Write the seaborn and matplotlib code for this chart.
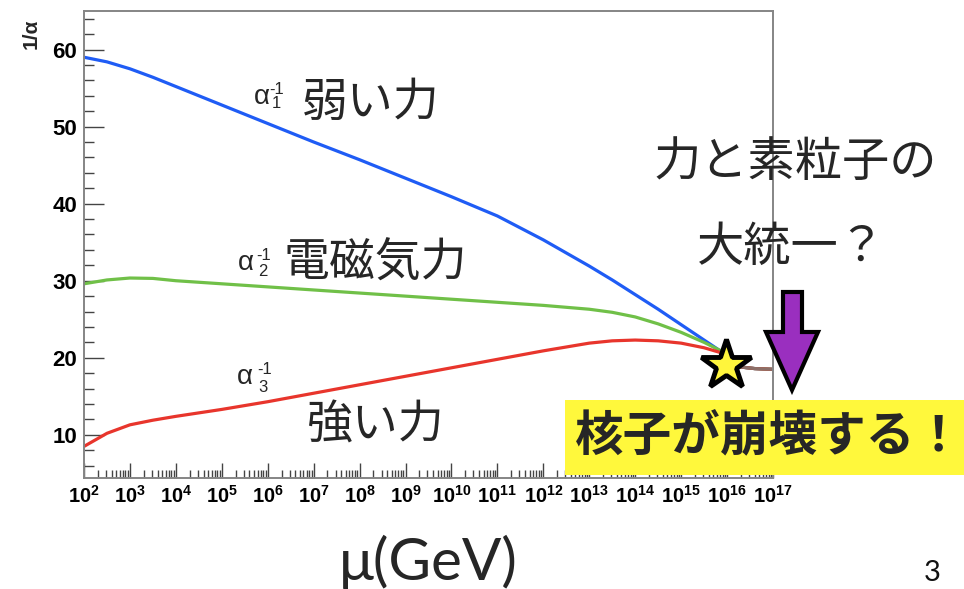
import numpy as np
import pandas as pd
import matplotlib
matplotlib.use("Agg")
import matplotlib.pyplot as plt
import seaborn as sns
from matplotlib.patches import Rectangle, Polygon
from matplotlib.ticker import FixedLocator, LogLocator, FuncFormatter, MultipleLocator, NullFormatter

# ---- running couplings: log10(mu / GeV) and inverse couplings ----
log_mu = [2, 2.5, 3, 3.5, 4, 5, 6, 7, 8, 9, 10, 11, 12, 13, 13.5, 14, 14.5,
          15, 15.5, 15.9, 16.1, 16.3, 16.6, 17]
inv_alpha1 = [59.0, 58.4, 57.5, 56.4, 55.2, 52.8, 50.4, 48.0, 45.7, 43.3, 40.9,
              38.4, 35.3, 31.9, 30.1, 28.2, 26.3, 24.3, 22.3, 20.7, 19.6, 18.8,
              18.6, 18.5]
inv_alpha2 = [29.6, 30.1, 30.35, 30.3, 30.0, 29.6, 29.2, 28.8, 28.4, 28.0, 27.6,
              27.2, 26.8, 26.3, 25.9, 25.3, 24.4, 23.3, 22.0, 20.8, 19.6, 18.8,
              18.6, 18.5]
inv_alpha3 = [8.5, 10.2, 11.3, 11.9, 12.4, 13.3, 14.3, 15.4, 16.5, 17.6, 18.7,
              19.8, 20.9, 21.9, 22.2, 22.3, 22.2, 21.9, 21.3, 20.6, 19.6, 18.8,
              18.6, 18.5]
# common coupling above the unification scale
log_mu_unified = [16.1, 16.3, 16.6, 17]
inv_alpha_unified = [19.6, 18.8, 18.6, 18.5]

# unification point
log_mu_gut = 15.98
inv_alpha_gut = 19.07

couplings = ["alpha1", "alpha2", "alpha3"]
colors = {"alpha1": "#1f5cf5", "alpha2": "#70c048", "alpha3": "#e8352c"}

x_decades = list(range(2, 18))
y_ticks = [10, 20, 30, 40, 50, 60]

df = pd.concat([
    pd.DataFrame({"mu": np.power(10.0, log_mu), "inv_alpha": v, "coupling": c})
    for c, v in zip(couplings, [inv_alpha1, inv_alpha2, inv_alpha3])
], ignore_index=True)
df_unified = pd.DataFrame({"mu": np.power(10.0, log_mu_unified),
                           "inv_alpha": inv_alpha_unified})

sns.set_theme(style="white")
plt.rcParams["font.family"] = ["Liberation Sans", "Noto Sans CJK JP", "DejaVu Sans"]
plt.rcParams["mathtext.fontset"] = "custom"
plt.rcParams["mathtext.rm"] = "Liberation Sans"
plt.rcParams["mathtext.it"] = "Liberation Sans"
plt.rcParams["mathtext.bf"] = "Liberation Sans:bold"

W, H = 964, 589
fig = plt.figure(figsize=(W / 100, H / 100), dpi=100)
fig.patch.set_facecolor("white")


def fx(px):
    return px / W


def fy(py):
    return 1 - py / H


ax = fig.add_axes([fx(84), fy(478), 689 / W, 467 / H])
ax.set_facecolor("white")

sns.lineplot(data=df, x="mu", y="inv_alpha", hue="coupling", hue_order=couplings,
             palette=colors, linewidth=2.3, legend=False, ax=ax, sort=False)
sns.lineplot(data=df_unified, x="mu", y="inv_alpha", color="#8c6f68",
             linewidth=2.3, ax=ax, sort=False)

ax.set_xscale("log")
ax.set_xlim(1e2, 1e17)
ax.set_ylim(4.4, 65)
ax.set_xlabel("")
ax.set_ylabel("")

# axes frame and ticks
for s in ax.spines.values():
    s.set_color("#858585")
    s.set_linewidth(1.4)

ax.xaxis.set_major_locator(FixedLocator([10.0 ** d for d in x_decades]))
ax.xaxis.set_minor_locator(LogLocator(base=10, subs=np.arange(2, 10), numticks=50))
ax.xaxis.set_minor_formatter(NullFormatter())
ax.xaxis.set_major_formatter(FuncFormatter(
    lambda v, p: r"$\mathbf{10^{%d}}$" % int(round(np.log10(v)))))
ax.yaxis.set_major_locator(FixedLocator(y_ticks))
ax.yaxis.set_minor_locator(MultipleLocator(2))

ax.tick_params(axis="both", which="both", direction="in", colors="#444444",
               top=False, right=False, bottom=True, left=True)
ax.tick_params(axis="x", which="major", length=11, width=1.0, pad=5,
               labelsize=14.5, labelcolor="black")
ax.tick_params(axis="x", which="minor", length=5.5, width=1.0)
ax.tick_params(axis="y", which="major", length=14.5, width=1.0, pad=5,
               labelsize=16, labelcolor="black")
ax.tick_params(axis="y", which="minor", length=7.2, width=1.0)
for lab in ax.get_yticklabels():
    lab.set_fontweight("bold")

# unification star
ax.plot([10.0 ** log_mu_gut], [inv_alpha_gut], marker="*", markersize=38,
        markerfacecolor="#fff53c", markeredgecolor="black", markeredgewidth=3.5,
        linestyle="none", clip_on=False, zorder=10)

# texts
jp = ["Noto Sans CJK JP", "DejaVu Sans"]
fig.text(fx(31), fy(34), "1/α", rotation=90, ha="center", va="center",
         fontsize=15, fontweight="bold", family=["Liberation Sans"])


def alpha_label(cx, cy, sup_xy, sub_xy, index):
    fig.text(fx(cx), fy(cy), "α", ha="center", va="center", fontsize=20,
             family=["Liberation Sans"])
    fig.text(fx(sup_xy[0]), fy(sup_xy[1]), "-1", ha="center", va="center",
             fontsize=12, family=["Liberation Sans"])
    fig.text(fx(sub_xy[0]), fy(sub_xy[1]), index, ha="center", va="center",
             fontsize=12, family=["Liberation Sans"])


alpha_label(262, 97, (277, 90), (276, 104), "1")
alpha_label(246, 263, (264, 256), (263, 271), "2")
alpha_label(245, 377, (265, 369), (263, 387), "3")

fig.text(fx(371), fy(103), "弱い力", ha="center", va="center", fontsize=33, family=jp)
fig.text(fx(375), fy(263), "電磁気力", ha="center", va="center", fontsize=33, family=jp)
fig.text(fx(376), fy(425), "強い力", ha="center", va="center", fontsize=33, family=jp)

fig.text(fx(795), fy(163), "力と素粒子の", ha="center", va="center", fontsize=34, family=jp)
fig.text(fx(791), fy(248), "大統一？", ha="center", va="center", fontsize=34, family=jp)

# downward arrow
arrow_px = [(783, 292), (802, 292), (802, 332), (818, 332), (792, 390),
            (766, 332), (783, 332)]
arrow = Polygon([(fx(x), fy(y)) for x, y in arrow_px], closed=True,
                transform=fig.transFigure, facecolor="#9a2fbf", edgecolor="black",
                linewidth=3, joinstyle="miter", zorder=20)
fig.add_artist(arrow)

# highlighted message
box = Rectangle((fx(565), fy(475)), (W - 565) / W, 75 / H, transform=fig.transFigure,
                facecolor="#fff83c", edgecolor="none", zorder=20)
fig.add_artist(box)
fig.text(fx(769), fy(437), "核子が崩壊する！", ha="center", va="center", fontsize=35,
         fontweight="bold", family=jp, zorder=21)

fig.text(fx(428), fy(562), "μ(GeV)", ha="center", va="center", fontsize=42,
         family=["Lato", "DejaVu Sans"])
fig.text(fx(932), fy(573), "3", ha="center", va="center", fontsize=21,
         color="#111111", family=["Lato", "DejaVu Sans"])

fig.savefig("out.png", dpi=100, facecolor="white")
